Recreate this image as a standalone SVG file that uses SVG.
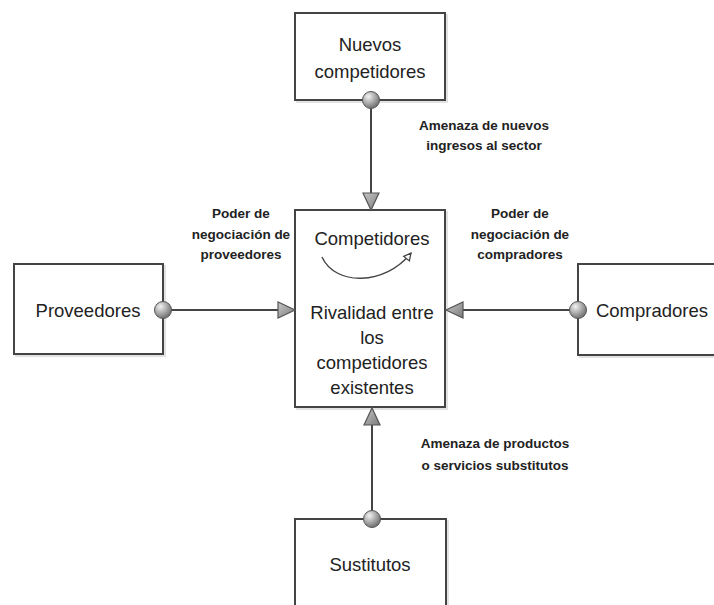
<svg xmlns="http://www.w3.org/2000/svg" width="714" height="605" viewBox="0 0 714 605">
<defs>
<radialGradient id="ball" cx="0.35" cy="0.3" r="0.75">
<stop offset="0" stop-color="#f2f2f2"/>
<stop offset="0.6" stop-color="#a0a0a0"/>
<stop offset="1" stop-color="#6a6a6a"/>
</radialGradient>
<linearGradient id="head" x1="0" y1="0" x2="1" y2="1">
<stop offset="0" stop-color="#c8c8c8"/>
<stop offset="1" stop-color="#7a7a7a"/>
</linearGradient>
<marker id="open" viewBox="0 0 10 10" refX="9" refY="5" markerWidth="9" markerHeight="9" markerUnits="userSpaceOnUse" orient="auto">
<path d="M1,1 L9,5 L1,9 Z" fill="#fff" stroke="#444" stroke-width="1.4"/>
</marker>
</defs>
<style>
.box{fill:#fff;stroke:#444;stroke-width:2}
.shadow{fill:none;stroke:#e2e2e2;stroke-width:2}
.main{font-family:"Liberation Sans",Arial,sans-serif;font-size:18.5px;fill:#222;text-anchor:middle}
.lbl{font-family:"Liberation Sans",Arial,sans-serif;font-size:13.5px;font-weight:bold;fill:#222;text-anchor:middle}
.line{stroke:#444;stroke-width:2;fill:none}
.ball{fill:url(#ball);stroke:#555;stroke-width:1}
.head{fill:url(#head);stroke:#555;stroke-width:1.2}
</style>
<rect width="714" height="605" fill="#fff"/>

<g id="nuevos">
<rect class="shadow" x="297" y="15" width="150" height="87"/>
<rect class="box" x="295" y="13" width="150" height="87"/>
<text class="main" x="370" y="51">Nuevos</text>
<text class="main" x="370" y="78">competidores</text>
</g>

<g id="competidores">
<rect class="shadow" x="297" y="212" width="150" height="197"/>
<rect class="box" x="295" y="210" width="150" height="197"/>
<text class="main" x="372" y="245">Competidores</text>
<path d="M322,257 C335,286 385,286 411,253" fill="none" stroke="#444" stroke-width="1.4" marker-end="url(#open)"/>
<text class="main" x="372" y="319">Rivalidad entre</text>
<text class="main" x="372" y="344">los</text>
<text class="main" x="372" y="369">competidores</text>
<text class="main" x="372" y="394">existentes</text>
</g>

<g id="proveedores">
<rect class="shadow" x="16" y="266" width="149" height="90"/>
<rect class="box" x="14" y="264" width="149" height="90"/>
<text class="main" x="88" y="317">Proveedores</text>
</g>

<g id="compradores">
<rect class="shadow" x="580" y="266" width="200" height="91"/>
<rect class="box" x="578" y="264" width="200" height="91"/>
<text class="main" x="652" y="317">Compradores</text>
</g>

<g id="sustitutos">
<rect class="shadow" x="297" y="521" width="151" height="120"/>
<rect class="box" x="295" y="519" width="151" height="120"/>
<text class="main" x="370" y="571">Sustitutos</text>
</g>

<g id="connectors">
<line class="line" x1="371" y1="108" x2="371" y2="194"/>
<polygon class="head" points="363,193 379,193 371,210"/>
<circle class="ball" cx="371" cy="100" r="8.5"/>

<line class="line" x1="171" y1="310" x2="279" y2="310"/>
<polygon class="head" points="278,302 278,318 295,310"/>
<circle class="ball" cx="163" cy="310" r="8.5"/>

<line class="line" x1="570" y1="310" x2="462" y2="310"/>
<polygon class="head" points="463,302 463,318 446,310"/>
<circle class="ball" cx="578" cy="310" r="8.5"/>

<line class="line" x1="372" y1="511" x2="372" y2="424"/>
<polygon class="head" points="364,425 380,425 372,408"/>
<circle class="ball" cx="372" cy="519" r="8.5"/>

<text class="lbl" x="484" y="130">Amenaza de nuevos</text>
<text class="lbl" x="484" y="150">ingresos al sector</text>
<text class="lbl" x="241" y="218">Poder de</text>
<text class="lbl" x="241" y="239">negociación de</text>
<text class="lbl" x="241" y="259">proveedores</text>
<text class="lbl" x="520" y="218">Poder de</text>
<text class="lbl" x="520" y="239">negociación de</text>
<text class="lbl" x="520" y="259">compradores</text>
<text class="lbl" x="495" y="448">Amenaza de productos</text>
<text class="lbl" x="495" y="470">o servicios substitutos</text>
</g>
</svg>
